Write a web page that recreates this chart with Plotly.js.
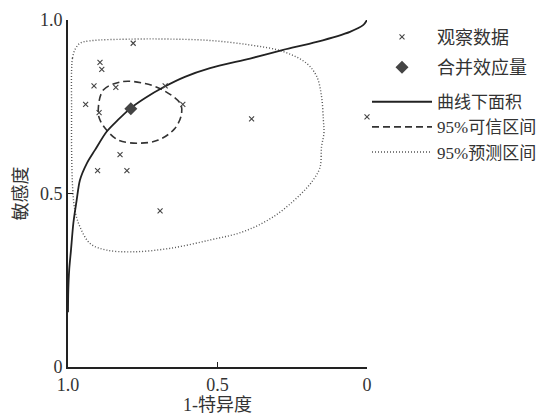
<!DOCTYPE html>
<html>
<head>
<meta charset="utf-8">
<script src="https://cdn.plot.ly/plotly-3.0.1.min.js"></script>
<style>
html,body{margin:0;padding:0;background:#fff;}
#chart{width:557px;height:415px;}
</style>
</head>
<body>
<div id="chart"></div>
<script>
// Observed study points (x axis shown reversed: 1.0 left -> 0 right)
const obsX = [0.782, 0.893, 0.887, 0.913, 0.840, 0.675, 0.941, 0.896, 0.616, 0.386, 0.000, 0.826, 0.901, 0.803, 0.692];
const obsY = [0.933, 0.878, 0.858, 0.810, 0.806, 0.810, 0.757, 0.733, 0.757, 0.715, 0.721, 0.612, 0.566, 0.566, 0.450];

// Pooled estimate
const pooledX = [0.790];
const pooledY = [0.744];

// SROC curve
const curveX = [1.000, 0.999, 0.996, 0.990, 0.982, 0.971, 0.960, 0.937, 0.910, 0.871, 0.833, 0.793, 0.742, 0.681, 0.609, 0.525, 0.391, 0.280, 0.168, 0.057, 0.012, 0.000];
const curveY = [0.158, 0.222, 0.280, 0.337, 0.415, 0.481, 0.539, 0.587, 0.625, 0.678, 0.712, 0.744, 0.775, 0.806, 0.836, 0.861, 0.889, 0.914, 0.937, 0.966, 0.986, 1.000];

// 95% confidence region
const ciX = [0.899, 0.882, 0.820, 0.754, 0.687, 0.625, 0.620, 0.642, 0.698, 0.765, 0.832, 0.871, 0.893, 0.899];
const ciY = [0.736, 0.798, 0.822, 0.819, 0.800, 0.760, 0.731, 0.688, 0.654, 0.645, 0.654, 0.683, 0.712, 0.736];

// 95% prediction region
const piX = [0.988, 0.985, 0.977, 0.960, 0.926, 0.782, 0.659, 0.525, 0.391, 0.280, 0.202, 0.168, 0.152, 0.146, 0.144, 0.152, 0.157, 0.180, 0.224, 0.313, 0.414, 0.525, 0.659, 0.782, 0.871, 0.926, 0.960, 0.977, 0.984, 0.988, 0.988, 0.988];
const piY = [0.856, 0.890, 0.914, 0.933, 0.940, 0.945, 0.945, 0.941, 0.928, 0.909, 0.875, 0.837, 0.779, 0.712, 0.674, 0.635, 0.576, 0.539, 0.496, 0.433, 0.390, 0.366, 0.342, 0.332, 0.337, 0.356, 0.404, 0.452, 0.510, 0.625, 0.741, 0.856];

const tickVals = [0, 0.5, 1];
const tickText = ['0', '0.5', '1.0'];
const legendNames = ['观察数据', '合并效应量', '曲线下面积', '95%可信区间', '95%预测区间'];

const serif = '"Liberation Serif", "Times New Roman", "Noto Sans CJK SC", serif';

const traces = [
  {
    x: piX, y: piY, type: 'scatter', mode: 'lines', name: legendNames[4],
    line: {color: '#555', width: 1.4, dash: '1px,2px', shape: 'spline', smoothing: 1},
    legend: 'legend2', legendrank: 3
  },
  {
    x: ciX, y: ciY, type: 'scatter', mode: 'lines', name: legendNames[3],
    line: {color: '#333', width: 1.6, dash: '7px,4px', shape: 'spline', smoothing: 1},
    legend: 'legend2', legendrank: 2
  },
  {
    x: curveX, y: curveY, type: 'scatter', mode: 'lines', name: legendNames[2],
    line: {color: '#222', width: 1.8, shape: 'spline', smoothing: 0.8},
    legend: 'legend2', legendrank: 1
  },
  {
    x: obsX, y: obsY, type: 'scatter', mode: 'markers', name: legendNames[0],
    marker: {symbol: 'x-thin', size: 5, color: '#444', line: {color: '#444', width: 1.1}},
    cliponaxis: false, legendgroup: 'a', legendrank: 1
  },
  {
    x: pooledX, y: pooledY, type: 'scatter', mode: 'markers', name: legendNames[1],
    marker: {symbol: 'diamond', size: 10, color: '#444'},
    cliponaxis: false, legendgroup: 'b', legendrank: 2
  }
];

const axisCommon = {
  tickvals: tickVals, ticktext: tickText,
  ticks: 'inside', ticklen: 5, tickwidth: 1.5, tickcolor: '#222',
  showline: true, linewidth: 2, linecolor: '#222',
  showgrid: false, zeroline: false, mirror: false,
  tickfont: {family: serif, size: 18, color: '#333'},
  fixedrange: true
};

const layout = {
  width: 557, height: 415,
  margin: {l: 68, r: 190, t: 20, b: 48},
  paper_bgcolor: '#fff', plot_bgcolor: '#fff',
  xaxis: Object.assign({}, axisCommon, {
    range: [1, 0], autorange: false,
    title: {text: '1-特异度', font: {family: serif, size: 18, color: '#333'}, standoff: 2}
  }),
  yaxis: Object.assign({}, axisCommon, {
    range: [0, 1], autorange: false,
    title: {text: '敏感度', font: {family: serif, size: 18, color: '#333'}, standoff: 8}
  }),
  showlegend: true,
  legend: {
    x: 1.0, xanchor: 'left', y: 1.004, yanchor: 'top',
    traceorder: 'grouped', tracegroupgap: 4,
    itemwidth: 60, bgcolor: 'rgba(0,0,0,0)', borderwidth: 0,
    font: {family: serif, size: 18, color: '#333'}
  },
  legend2: {
    x: 1.0, xanchor: 'left', y: 0.815, yanchor: 'top',
    itemwidth: 60, bgcolor: 'rgba(0,0,0,0)', borderwidth: 0,
    font: {family: serif, size: 17, color: '#333'}
  }
};

Plotly.newPlot('chart', traces, layout, {displayModeBar: false, staticPlot: true});
</script>
</body>
</html>
